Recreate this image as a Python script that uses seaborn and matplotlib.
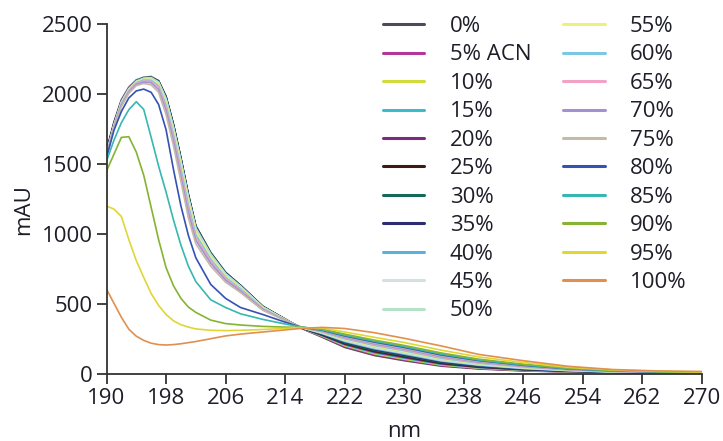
import numpy as np
import pandas as pd
import matplotlib
matplotlib.use("Agg")
import matplotlib.pyplot as plt
import seaborn as sns

# ---------------- data ----------------
wavelength = [190, 191, 192, 193, 194, 195, 196, 197, 198, 199, 200, 201, 202, 204, 206,
              208, 211, 214, 216, 219, 222, 226, 230, 235, 240, 246, 252, 258, 264, 270]

labels = ["0%", "5% ACN", "10%", "15%", "20%", "25%", "30%", "35%", "40%", "45%", "50%",
          "55%", "60%", "65%", "70%", "75%", "80%", "85%", "90%", "95%", "100%"]

s00 = [1580, 1780, 1940, 2040, 2090, 2112, 2120, 2090, 1975, 1770, 1530, 1270, 1050, 860, 720, 630, 480, 390, 330, 262, 190, 132, 95, 56, 36, 22, 15, 10, 8, 7]
s05 = [1600, 1800, 1960, 2050, 2100, 2120, 2125, 2095, 1980, 1780, 1540, 1280, 1055, 865, 725, 632, 482, 392, 331, 266, 196, 138, 100, 60, 39, 24, 16, 11, 8, 7]
s10 = [1570, 1790, 1950, 2045, 2095, 2118, 2122, 2096, 1985, 1785, 1545, 1285, 1060, 870, 728, 635, 485, 393, 332, 270, 202, 144, 106, 64, 42, 26, 17, 11, 8, 7]
s15 = [1590, 1790, 1955, 2045, 2100, 2118, 2120, 2092, 1980, 1780, 1540, 1280, 1058, 868, 726, 634, 484, 392, 332, 273, 207, 150, 112, 68, 45, 28, 18, 12, 9, 7]
s20 = [1585, 1795, 1950, 2040, 2095, 2115, 2120, 2094, 1982, 1782, 1542, 1282, 1056, 866, 724, 633, 483, 392, 333, 276, 212, 156, 118, 72, 48, 30, 19, 12, 9, 8]
s25 = [1595, 1785, 1945, 2040, 2092, 2112, 2118, 2090, 1976, 1776, 1536, 1276, 1052, 862, 722, 632, 482, 391, 333, 279, 217, 162, 124, 77, 51, 32, 20, 13, 9, 8]
s30 = [1580, 1790, 1950, 2042, 2096, 2116, 2120, 2092, 1980, 1780, 1540, 1280, 1055, 864, 723, 632, 482, 391, 334, 282, 222, 168, 130, 82, 55, 34, 21, 13, 10, 8]
s35 = [1590, 1785, 1945, 2038, 2090, 2110, 2115, 2088, 1974, 1775, 1535, 1275, 1050, 860, 720, 630, 480, 390, 334, 285, 227, 174, 136, 87, 58, 36, 22, 14, 10, 8]
s40 = [1560, 1770, 1940, 2035, 2090, 2112, 2117, 2086, 1969, 1765, 1525, 1265, 1045, 858, 718, 628, 479, 390, 334, 288, 232, 180, 142, 92, 62, 39, 24, 15, 10, 8]
s45 = [1570, 1775, 1940, 2035, 2088, 2110, 2114, 2084, 1964, 1760, 1520, 1260, 1040, 855, 715, 626, 478, 389, 335, 291, 237, 186, 148, 97, 66, 41, 25, 15, 11, 9]
s50 = [1575, 1780, 1945, 2038, 2092, 2112, 2116, 2082, 1959, 1755, 1515, 1255, 1035, 850, 712, 624, 477, 389, 335, 294, 242, 192, 154, 102, 70, 44, 27, 16, 11, 9]
s55 = [1570, 1775, 1935, 2030, 2085, 2105, 2105, 2068, 1938, 1730, 1490, 1230, 1015, 835, 700, 615, 472, 387, 335, 297, 247, 198, 160, 107, 74, 47, 28, 17, 12, 9]
s60 = [1565, 1770, 1930, 2025, 2080, 2100, 2098, 2058, 1922, 1710, 1465, 1205, 995, 820, 690, 608, 468, 386, 336, 300, 252, 204, 166, 112, 78, 50, 30, 18, 12, 9]
s65 = [1560, 1765, 1925, 2020, 2075, 2092, 2090, 2048, 1902, 1690, 1440, 1180, 975, 805, 680, 600, 464, 385, 336, 303, 257, 210, 172, 118, 82, 53, 32, 19, 13, 10]
s70 = [1555, 1760, 1920, 2012, 2068, 2085, 2080, 2032, 1882, 1665, 1410, 1150, 955, 790, 670, 592, 460, 384, 336, 306, 262, 216, 178, 124, 86, 56, 33, 20, 13, 10]
s75 = [1550, 1755, 1910, 2005, 2060, 2075, 2065, 2012, 1852, 1630, 1375, 1115, 930, 770, 655, 582, 455, 382, 336, 309, 267, 222, 184, 130, 91, 59, 35, 21, 14, 10]
s80 = [1545, 1740, 1875, 1972, 2022, 2035, 2012, 1925, 1745, 1460, 1200, 990, 830, 640, 540, 475, 425, 370, 337, 312, 272, 228, 190, 136, 96, 62, 37, 23, 15, 11]
s85 = [1520, 1670, 1795, 1888, 1945, 1890, 1690, 1485, 1300, 1100, 920, 770, 660, 530, 475, 430, 390, 357, 338, 315, 277, 234, 196, 142, 100, 65, 39, 24, 16, 12]
s90 = [1450, 1570, 1690, 1695, 1585, 1420, 1190, 960, 760, 630, 540, 478, 440, 385, 360, 350, 340, 335, 333, 320, 285, 242, 204, 150, 106, 70, 42, 26, 17, 12]
s95 = [1200, 1178, 1125, 960, 810, 690, 575, 490, 425, 380, 352, 335, 322, 312, 310, 312, 318, 326, 332, 328, 300, 262, 225, 170, 122, 82, 48, 29, 19, 14]
s100 = [607, 505, 405, 320, 270, 240, 220, 210, 207, 210, 216, 224, 232, 252, 272, 285, 300, 315, 325, 333, 325, 295, 255, 200, 140, 95, 55, 32, 22, 18]

series = [s00, s05, s10, s15, s20, s25, s30, s35, s40, s45, s50,
          s55, s60, s65, s70, s75, s80, s85, s90, s95, s100]

colors = ["#4b4b5e", "#b5359e", "#cfdc3c", "#3cbccb", "#7b2c7e", "#3a1c12", "#16685a",
          "#2c2c6e", "#5ab2da", "#d6e0e2", "#b6e2c8", "#eff07c", "#7cc8e2", "#f2a2c4",
          "#a292d2", "#c4baa8", "#3452b4", "#36b8b0", "#84b432", "#e0d634", "#e0904e"]

xticks = [190, 198, 206, 214, 222, 230, 238, 246, 254, 262, 270]
yticks = [0, 500, 1000, 1500, 2000, 2500]

# ---------------- frame ----------------
rows = []
for lab, vals in zip(labels, series):
    for w, v in zip(wavelength, vals):
        rows.append((lab, w, v))
df = pd.DataFrame(rows, columns=["conc", "nm", "mAU"])

sns.set_theme(style="ticks")
plt.rcParams["font.family"] = ["Open Sans", "DejaVu Sans"]

fig = plt.figure(figsize=(7.23, 4.41), dpi=100)
ax = fig.add_axes([106.5 / 723, 67 / 441, (702 - 106.5) / 723, (374 - 24) / 441])

palette = dict(zip(labels, colors))
sns.lineplot(data=df, x="nm", y="mAU", hue="conc", hue_order=labels, palette=palette,
             estimator=None, sort=False, linewidth=1.2, ax=ax)

handles, labs = ax.get_legend_handles_labels()
if ax.get_legend() is not None:
    ax.get_legend().remove()
for h in handles:
    h.set_linewidth(2.2)

ax.set_xlim(190, 270)
ax.set_ylim(0, 2500)
ax.set_xticks(xticks)
ax.set_yticks(yticks)
ax.set_xticklabels([str(t) for t in xticks])
ax.set_yticklabels([str(t) for t in yticks])

txt_col = "#1e1e2a"
for side in ["top", "right"]:
    ax.spines[side].set_visible(False)
for side in ["left", "bottom"]:
    ax.spines[side].set_color("#333333")
    ax.spines[side].set_linewidth(1.3)
ax.tick_params(axis="both", direction="out", length=7, width=1.3, color="#333333",
               labelsize=16, labelcolor=txt_col, pad=3)

ax.set_xlabel("nm", fontsize=16, color=txt_col, labelpad=9)
ax.set_ylabel("mAU", fontsize=16, color=txt_col)
ax.yaxis.set_label_coords(-0.122, 0.47)

fig.legend(handles, labs, loc="upper left", bbox_to_anchor=(383 / 723, 1 - 16 / 441),
           ncol=2, frameon=False, fontsize=16, labelspacing=0.335, handlelength=1.85,
           handletextpad=1.15, columnspacing=1.45, borderpad=0, borderaxespad=0,
           labelcolor=txt_col)

fig.savefig("out.png", dpi=100)
